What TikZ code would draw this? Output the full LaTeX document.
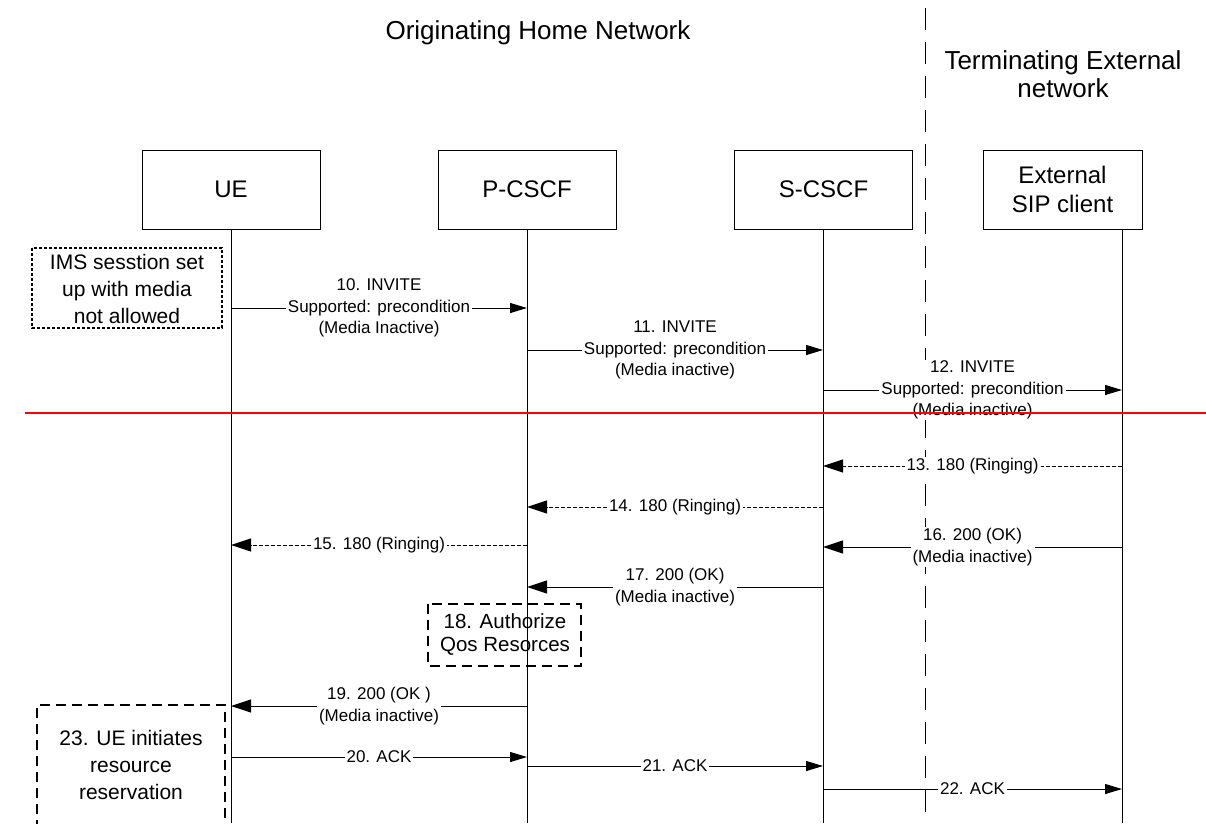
\documentclass[tikz,border=0pt]{standalone}
\usepackage{fontspec}
\setmainfont{Liberation Sans}
\usetikzlibrary{arrows.meta}
\begin{document}
\begin{tikzpicture}[x=1pt,y=-1pt,
  every node/.style={inner sep=0pt, outer sep=0pt},
  actor/.style={draw, line width=1pt, minimum height=79pt, align=center,
    font=\fontsize{24}{29}\selectfont},
  life/.style={line width=1pt},
  req/.style={line width=1pt, -{Triangle[length=17pt,width=10pt]}},
  rsp/.style={line width=1pt, -{Triangle[length=20pt,width=13pt]}},
  prov/.style={rsp, dash pattern=on 4pt off 2pt},
  msg/.style={fill=white, align=center, inner xsep=2pt, inner ysep=1pt,
    font=\fontsize{17}{21.5}\selectfont},
  heading/.style={align=center, font=\fontsize{26}{28}\selectfont},
  notetext/.style={align=center, font=\fontsize{21}{27}\selectfont},
  bigdash/.style={line width=1.1pt, dash pattern=on 10pt off 6pt},
  finedash/.style={line width=1.1pt, dash pattern=on 3pt off 2pt}
]
\useasboundingbox (0,0) rectangle (1206,823);

% headings and network boundary
\node[heading] (orig) at (538,33) {Originating Home Network};
\node[heading] (term) at (1063,74) {Terminating External\\network};
\coordinate (bndTop) at (925,8);
\coordinate (bndBot) at (925,823);
\draw[line width=1pt, dash pattern=on 22pt off 12pt] (bndTop) -- (bndBot);

% participants
\node[actor, minimum width=178pt] (ue)  at (231,189.5) {UE};
\node[actor, minimum width=178pt] (pc)  at (527,189.5) {P-CSCF};
\node[actor, minimum width=178pt] (sc)  at (823.5,189.5) {S-CSCF};
\node[actor, minimum width=159pt] (ext) at (1062.5,189.5) {External\\SIP client};

% lifelines
\coordinate (ueEnd) at (231,823);
\coordinate (pcEnd) at (527,823);
\coordinate (scEnd) at (823,823);
\coordinate (extTop) at (1122,229);
\coordinate (extEnd) at (1122,823);
\draw[life] (ue.south) -- (ueEnd);
\draw[life] (pc.south) -- (pcEnd);
\draw[life] (823,229) -- (scEnd);
\draw[life] (extTop) -- (extEnd);

% note boxes
\draw[finedash] (32,248) rectangle (222,328);
\node[notetext] (ims) at (127,289) {IMS sesstion set\\up with media\\not allowed};
\draw[bigdash] (428,604) rectangle (581,666);
\node[align=center, font=\fontsize{20.5}{23}\selectfont] (qos) at (505,634.5) {18. Authorize\\Qos Resorces};
\draw[bigdash] (37,830) -- (37,705) -- (225,705) -- (225,830);
\node[notetext] (res) at (131,765) {23. UE initiates\\resource\\reservation};

% message end points
\coordinate (u10) at (231,308);  \coordinate (p10) at (527,308);
\coordinate (p11) at (527,350);  \coordinate (s11) at (823,350);
\coordinate (s12) at (823,390);  \coordinate (e12) at (1122,390);
\coordinate (e13) at (1122,466); \coordinate (s13) at (823,466);
\coordinate (s14) at (823,507);  \coordinate (p14) at (527,507);
\coordinate (p15) at (527,545);  \coordinate (u15) at (231,545);
\coordinate (e16) at (1122,547); \coordinate (s16) at (823,547);
\coordinate (s17) at (823,587);  \coordinate (p17) at (527,587);
\coordinate (p19) at (527,706);  \coordinate (u19) at (231,706);
\coordinate (u20) at (231,757);  \coordinate (p20) at (527,757);
\coordinate (p21) at (527,766);  \coordinate (s21) at (823,766);
\coordinate (s22) at (823,789);  \coordinate (e22) at (1122,789);

% messages
\draw[req] (u10) -- node[msg] {10. INVITE\\Supported: precondition\\(Media Inactive)} (p10);
\draw[req] (p11) -- node[msg] {11. INVITE\\Supported: precondition\\(Media inactive)} (s11);
\draw[req] (s12) -- node[msg] {12. INVITE\\Supported: precondition\\(Media inactive)} (e12);
\draw[prov] (e13) -- node[msg] {13. 180 (Ringing)} (s13);
\draw[prov] (s14) -- node[msg] {14. 180 (Ringing)} (p14);
\draw[prov] (p15) -- node[msg] {15. 180 (Ringing)} (u15);
\draw[rsp] (e16) -- node[msg] {16. 200 (OK)\\(Media inactive)} (s16);
\draw[rsp] (s17) -- node[msg] {17. 200 (OK)\\(Media inactive)} (p17);
\draw[rsp] (p19) -- node[msg] {19. 200 (OK )\\(Media inactive)} (u19);
\draw[req] (u20) -- node[msg] {20. ACK} (p20);
\draw[req] (p21) -- node[msg] {21. ACK} (s21);
\draw[req] (s22) -- node[msg] {22. ACK} (e22);

% red marker line
\coordinate (redL) at (25,413);
\coordinate (redR) at (1206,413);
\draw[red, line width=1.5pt] (redL) -- (redR);
\end{tikzpicture}
\end{document}
